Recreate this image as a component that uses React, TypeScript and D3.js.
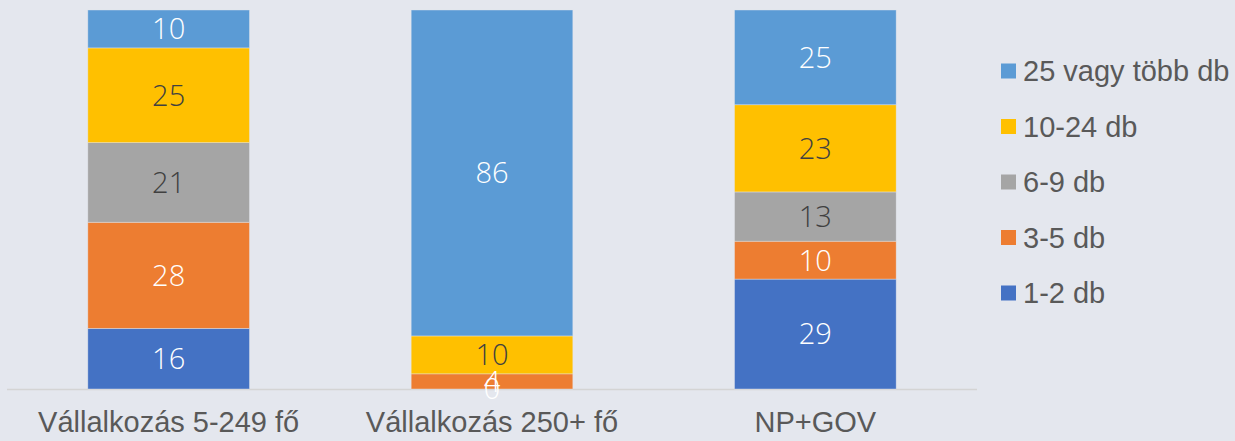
import React from "react";
import * as d3 from "d3";

const categories = ["Vállalkozás 5-249 fő", "Vállalkozás 250+ fő", "NP+GOV"];
const seriesNames = ["1-2 db", "3-5 db", "6-9 db", "10-24 db", "25 vagy több db"];
const seriesColors = ["#4472c4", "#ed7d31", "#a5a5a5", "#ffc000", "#5b9bd5"];
const labelColors = ["#ffffff", "#ffffff", "#404040", "#404040", "#ffffff"];
// values per series, one entry per category (null = no label shown)
const v12 = [16, 0, 29];
const v35 = [28, 4, 10];
const v69 = [21, null, 13];
const v1024 = [25, 10, 23];
const v25 = [10, 86, 25];

const seriesValues = [v12, v35, v69, v1024, v25];

const width = 1235;
const height = 441;
const margin = { top: 10, right: 258, bottom: 52, left: 7 };

const App: React.FC = () => {
  const w = width - margin.left - margin.right;
  const h = height - margin.top - margin.bottom;

  const rows = categories.map((c, i) => {
    const r: any = { cat: c };
    seriesNames.forEach((s, j) => (r[s] = seriesValues[j][i] ?? 0));
    return r;
  });
  const stack = d3.stack<any>().keys(seriesNames)(rows);

  const x = d3.scaleBand().domain(categories).range([0, w]).paddingInner(0.5).paddingOuter(0.25);
  const y = d3.scaleLinear().domain([0, 100]).range([h, 0]);
  const legendY = d3.scalePoint<string>().domain(seriesNames.slice().reverse()).range([71, 293]);

  return (
    <svg width={width} height={height} style={{ display: "block", position: "absolute", left: 0, top: 0 }}>
      <rect width={width} height={height} fill="#e4e7ee" />
      <g transform={`translate(${margin.left},${margin.top})`}>
        <line x1={0} x2={w} y1={h + 0.5} y2={h + 0.5} stroke="#d4d4d4" strokeWidth={1.5} />
        {stack.map((layer, j) =>
          layer.map((d, i) => (
            <rect
              key={`${j}-${i}`}
              x={x(categories[i])!}
              y={y(d[1])}
              width={x.bandwidth()}
              height={y(d[0]) - y(d[1])}
              fill={seriesColors[j]}
              stroke="#e4e7ee"
              strokeOpacity={0.6}
              strokeWidth={0.7}
            />
          ))
        )}
        {stack.map((layer, j) =>
          layer.map((d, i) =>
            seriesValues[j][i] === null ? null : (
              <text
                key={`l${j}-${i}`}
                x={x(categories[i])! + x.bandwidth() / 2}
                y={(y(d[0]) + y(d[1])) / 2}
                dy="0.36em"
                textAnchor="middle"
                fontFamily="'Open Sans', sans-serif"
                fontWeight={300}
                fontSize={29}
                fill={labelColors[j]}
              >
                {seriesValues[j][i]}
              </text>
            )
          )
        )}
        {categories.map((c) => (
          <text
            key={c}
            x={x(c)! + x.bandwidth() / 2}
            y={h + 43}
            textAnchor="middle"
            fontFamily="'Liberation Sans', Arial, sans-serif"
            fontSize={29}
            fill="#595959"
          >
            {c}
          </text>
        ))}
      </g>
      {seriesNames.map((s, j) => (
        <g key={s} transform={`translate(1001,${legendY(s)})`}>
          <rect x={0} y={-7.5} width={15} height={15} fill={seriesColors[j]} />
          <text x={22} dy="0.36em" fontFamily="'Liberation Sans', Arial, sans-serif" fontSize={29} fill="#595959">
            {s}
          </text>
        </g>
      ))}
    </svg>
  );
};

export default App;
